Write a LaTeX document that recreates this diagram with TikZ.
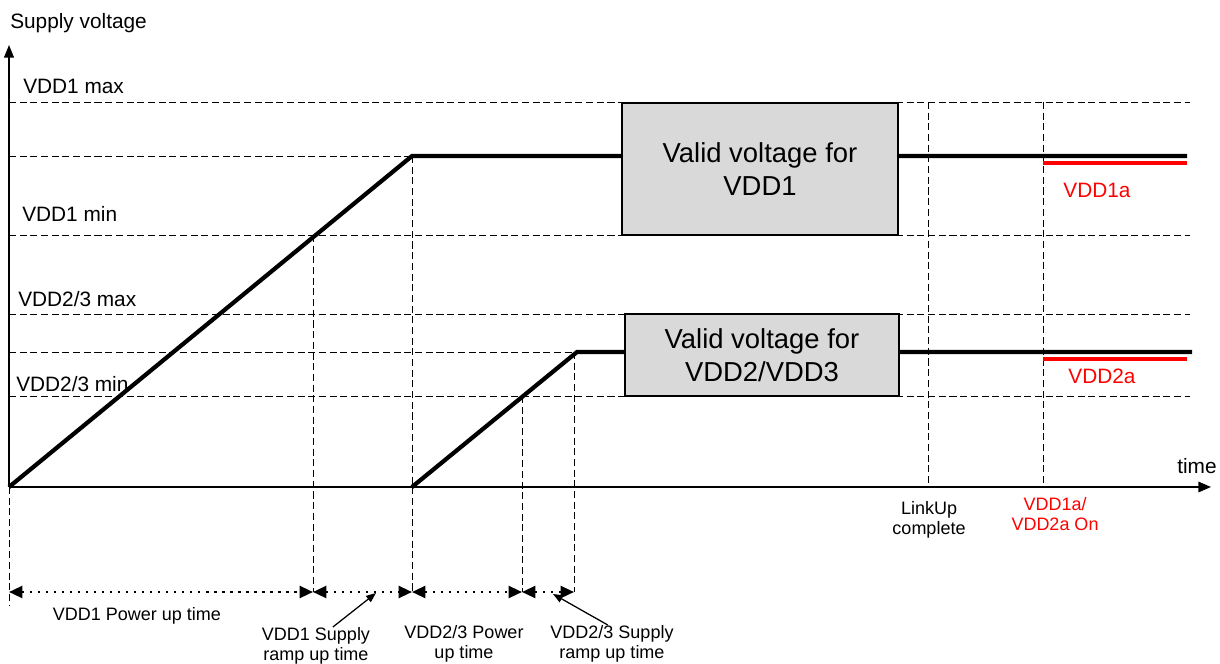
\documentclass[tikz,border=0pt]{standalone}
\usepackage{fontspec}
\setmainfont{Liberation Sans}
\usetikzlibrary{arrows.meta}
\begin{document}
\begin{tikzpicture}[x=0.025cm,y=-0.025cm,
	lvl/.style={line width=0.7pt,dash pattern=on 5pt off 2.6pt},
	sig/.style={line width=3pt},
	siga/.style={line width=3pt,red},
	span/.style={line width=1.7pt,dash pattern=on 1.7pt off 4pt,{Triangle[length=9.5pt,width=8.5pt]}-{Triangle[length=9.5pt,width=8.5pt]}},
	valid/.style={draw,line width=0.8pt,fill=black!15,font=\fontsize{19.5}{23.5}\selectfont,align=center},
	lbl/.style={inner sep=0pt,font=\fontsize{14.8}{17}\selectfont},
	note/.style={inner sep=0pt,font=\fontsize{12.8}{14.6}\selectfont,align=center},
	ptr/.style={line width=0.9pt,-{Triangle[length=7pt,width=5.5pt]}}]
	\useasboundingbox (0,0) rectangle (1220,663);
	% level lines
	\foreach \y in {102,235,314,396} \draw[lvl] (9,\y) -- (1190,\y);
	\draw[lvl] (9,156) -- (412,156);
	\draw[lvl] (9,352) -- (577,352);
	% time marks
	\draw[lvl] (9,487) -- (9,606);
	\draw[lvl] (313,235) -- (313,592);
	\draw[lvl] (412,156) -- (412,592);
	\draw[lvl] (522,396) -- (522,592);
	\draw[lvl] (574,352) -- (574,592);
	\draw[lvl] (928,102) -- (928,487);
	\draw[lvl] (1043,102) -- (1043,487);
	% axes
	\draw[line width=1pt,-{Triangle[length=9pt,width=7pt]}] (9,487) -- (9,45);
	\draw[line width=1pt,-{Triangle[length=9pt,width=7.5pt]}] (9,487) -- (1211,487);
	% supplies
	\draw[sig] (9,487) -- (412,156) -- (1187,156);
	\draw[sig] (412,487) -- (577,352) -- (1192,352);
	\draw[siga] (1043,163) -- (1187,163);
	\draw[siga] (1043,359) -- (1187,359);
	\node[valid,minimum width=6.9cm,minimum height=3.3cm] (box1) at (760,169) {Valid voltage for\\VDD1};
	\node[valid,minimum width=6.85cm,minimum height=2.05cm] (box2) at (762,355) {Valid voltage for\\VDD2/VDD3};
	% spans
	\draw[span] (9,592) -- (313,592);
	\draw[span] (313,592) -- (412,592);
	\draw[span] (412,592) -- (522,592);
	\draw[span] (522,592) -- (574,592);
	% labels
	\node[lbl,anchor=base west] (ylab) at (10,29) {Supply voltage};
	\node[lbl,anchor=base west] (v1max) at (23,94) {VDD1 max};
	\node[lbl,anchor=base west] (v1min) at (22,221) {VDD1 min};
	\node[lbl,anchor=base west] (v2max) at (18,306) {VDD2/3 max};
	\node[lbl,anchor=base west] (v2min) at (16,391) {VDD2/3 min};
	\node[lbl,anchor=base west] (tlab) at (1177,473) {time};
	\node[lbl,anchor=base,red] (v1a) at (1097,197) {VDD1a};
	\node[lbl,anchor=base,red] (v2a) at (1102,383) {VDD2a};
	\node[note,anchor=north] (link) at (929,501) {LinkUp\\complete};
	\node[note,anchor=north,red] (aon) at (1055,497) {VDD1a/\\VDD2a On};
	\node[note,anchor=north] (pwr1) at (137,607) {VDD1 Power up time};
	\node[note,anchor=north] (ramp1) at (316,627) {VDD1 Supply\\ramp up time};
	\node[note,anchor=north] (pwr2) at (464,625) {VDD2/3 Power\\up time};
	\node[note,anchor=north] (ramp2) at (612,625) {VDD2/3 Supply\\ramp up time};
	\draw[ptr] ([xshift=12pt]ramp1.north) -- (376,593);
	\draw[ptr] ([xshift=-3pt]ramp2.north) -- (553,594);
\end{tikzpicture}
\end{document}
